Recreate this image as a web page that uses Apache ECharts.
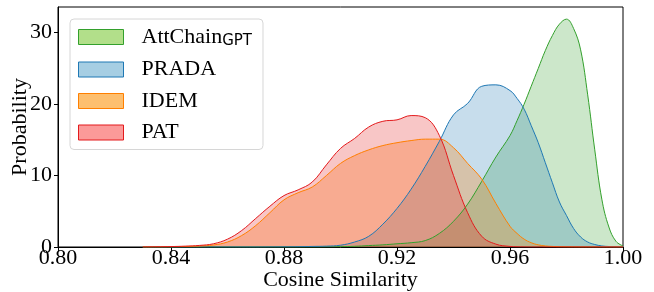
<!DOCTYPE html>
<html>
<head>
<meta charset="utf-8">
<script src="https://cdn.jsdelivr.net/npm/echarts@6/dist/echarts.min.js"></script>
<style>
  html, body { margin: 0; padding: 0; background: #fff; }
  #chart { width: 654px; height: 292px; }
</style>
</head>
<body>
<div id="chart"></div>
<script>
// cosine similarity grid (finer near the sharp AttChain peak)
const xs = [0.830, 0.835, 0.840, 0.845, 0.850, 0.855, 0.860, 0.865, 0.870, 0.875,
  0.880, 0.885, 0.890, 0.895, 0.900, 0.905, 0.910, 0.915, 0.920, 0.925,
  0.930, 0.935, 0.940, 0.945, 0.950, 0.955, 0.960,
  0.9625, 0.965, 0.9675, 0.970, 0.9725, 0.975, 0.9775, 0.980,
  0.9825, 0.985, 0.9875, 0.990, 0.9925, 0.995, 0.9975, 1.000]

const attChain = [0, 0, 0, 0, 0, 0, 0, 0, 0, 0,
  0, 0, 0, 0.02, 0.05, 0.1, 0.2, 0.3, 0.45, 0.6,
  0.9, 1.9, 3.6, 6.0, 9.2, 12.6, 15.6,
  17.7, 20.0, 22.5, 25.0, 27.5, 29.6, 31.2, 31.9,
  30.6, 27.6, 21.3, 13.6, 6.7, 2.8, 0.8, 0.15]

const prada = [0, 0, 0, 0, 0, 0, 0, 0, 0, 0.01,
  0.02, 0.04, 0.08, 0.12, 0.25, 0.7, 1.5, 3.2, 5.4, 8.1,
  11.3, 14.8, 18.5, 20.1, 22.5, 22.7, 21.9,
  20.8, 19.3, 17.0, 14.6, 11.8, 9.0, 6.3, 4.4,
  2.6, 1.4, 0.7, 0.35, 0.15, 0.07, 0.03, 0.01]

const idem = [0, 0.01, 0.03, 0.07, 0.14, 0.28, 0.7, 1.6, 3.0, 4.8,
  6.6, 7.6, 8.4, 10.0, 11.7, 12.8, 13.6, 14.2, 14.6, 14.9,
  15.1, 15.1, 13.9, 11.7, 9.5, 6.1, 2.9,
  1.9, 1.1, 0.6, 0.3, 0.15, 0.08, 0.04, 0.02,
  0.01, 0, 0, 0, 0, 0, 0, 0]

const pat = [0.01, 0.03, 0.06, 0.12, 0.22, 0.45, 1.1, 2.3, 4.0, 5.7,
  7.2, 8.0, 9.1, 11.5, 13.8, 15.2, 16.8, 17.6, 17.8, 18.4,
  18.1, 15.6, 10.0, 4.8, 1.5, 0.4, 0.08,
  0.03, 0.01, 0, 0, 0, 0, 0, 0,
  0, 0, 0, 0, 0, 0, 0, 0]

const xTicks = [0.80, 0.84, 0.88, 0.92, 0.96, 1.00]
const yTicks = [0, 10, 20, 30]

const names = ['AttChain', 'PRADA', 'IDEM', 'PAT']
const lineColors = ['#33a02c', '#1f78b4', '#ff7f00', '#e31a1c']
const patchColors = ['#b2df8a', '#a6cee3', '#fdbf6f', '#fb9a99']
const fillAlpha = [0.25, 0.25, 0.28, 0.25]
const values = [attChain, prada, idem, pat]

const serif = 'Liberation Serif'
const fs = 22

const chart = echarts.init(document.getElementById('chart'), null, { renderer: 'canvas' })

const series = names.map((name, i) => ({
  name: name,
  type: 'line',
  smooth: 0.4,
  showSymbol: false,
  symbol: 'none',
  color: lineColors[i],
  lineStyle: { width: 1, color: lineColors[i] },
  areaStyle: { color: lineColors[i], opacity: fillAlpha[i] },
  data: xs.map((x, k) => [x, values[i][k]])
}))

const option = {
  animation: false,
  grid: {
    left: 58, right: 31, top: 7, bottom: 45,
    outerBoundsMode: 'none',
    show: true, borderColor: '#000', borderWidth: 1
  },
  legend: {
    orient: 'vertical',
    left: 70,
    top: 19,
    padding: [6, 11, 6, 8],
    itemWidth: 45,
    itemHeight: 15,
    itemGap: 9.5,
    borderColor: '#d6d6d6',
    borderWidth: 1,
    borderRadius: 4,
    backgroundColor: 'rgba(255,255,255,0.8)',
    data: names.map((name, i) => ({
      name: name,
      icon: 'rect',
      itemStyle: { color: patchColors[i], borderColor: lineColors[i], borderWidth: 1 }
    })),
    formatter: name => name === 'AttChain' ? '{m|AttChain}{s|GPT}' : '{m|' + name + '}',
    textStyle: {
      padding: [0, 0, 0, 13],
      rich: {
        m: { fontFamily: serif, fontSize: fs, color: '#000', lineHeight: 22 },
        s: { fontFamily: 'DejaVu Sans', fontSize: 15, color: '#000', lineHeight: 22, padding: [9, 0, 0, 0] }
      }
    }
  },
  xAxis: {
    type: 'value',
    min: 0.8,
    max: 1.0,
    interval: 0.04,
    name: 'Cosine Similarity',
    nameLocation: 'middle',
    nameGap: 22,
    nameMoveOverlap: false,
    nameTextStyle: { fontFamily: serif, fontSize: fs, color: '#000', verticalAlign: 'top' },
    axisLine: { lineStyle: { color: '#000', width: 1 } },
    axisTick: { show: true, length: 4, lineStyle: { color: '#000' }, customValues: xTicks },
    axisLabel: {
      fontFamily: serif, fontSize: fs, color: '#000', margin: 0,
      customValues: xTicks,
      formatter: v => v.toFixed(2)
    },
    splitLine: { show: false }
  },
  yAxis: {
    type: 'value',
    min: 0,
    max: 33.6,
    interval: 10,
    name: 'Probability',
    nameLocation: 'middle',
    nameGap: 27,
    nameMoveOverlap: false,
    nameTextStyle: { fontFamily: serif, fontSize: fs, color: '#000' },
    axisLine: { show: true, lineStyle: { color: '#000', width: 1 } },
    axisTick: { show: true, length: 4, lineStyle: { color: '#000' }, customValues: yTicks },
    axisLabel: {
      fontFamily: serif, fontSize: fs, color: '#000', margin: 6,
      customValues: yTicks
    },
    splitLine: { show: false }
  },
  series: series
}

chart.setOption(option)
</script>
</body>
</html>
